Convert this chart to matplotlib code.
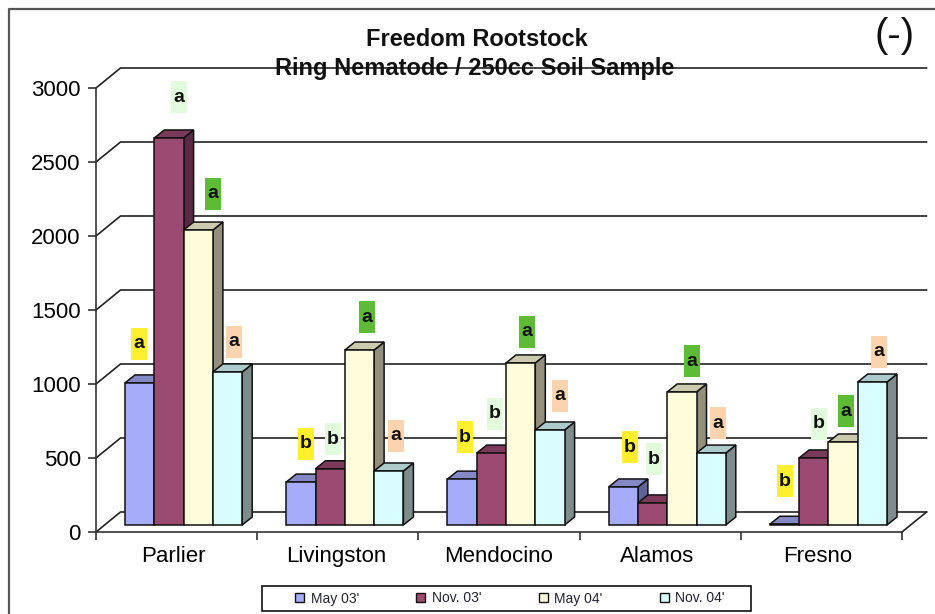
import matplotlib
matplotlib.use("Agg")
import matplotlib.pyplot as plt
from matplotlib.patches import Polygon, Rectangle

plt.rcParams['font.family'] = ['Liberation Sans', 'DejaVu Sans']

# data
sites = ["Parlier", "Livingston", "Mendocino", "Alamos", "Fresno"]
series = ["May 03'", "Nov. 03'", "May 04'", "Nov. 04'"]
may03 = [960, 290, 310, 257, 5]
nov03 = [2615, 380, 486, 149, 453]
may04 = [1993, 1182, 1095, 899, 561]
nov04 = [1034, 365, 642, 486, 966]
yticks = [0, 500, 1000, 1500, 2000, 2500, 3000]

# significance letters, one row per site
letters = [["a", "a", "a", "a"],
           ["b", "b", "a", "a"],
           ["b", "b", "a", "a"],
           ["b", "b", "a", "a"],
           ["b", "b", "a", "a"]]

# styles
front = ["#A6ACF9", "#9B4A72", "#FFFCDC", "#DAFEFF"]
top = ["#8489C6", "#7C3A5B", "#CCC9AF", "#AECBCC"]
side = ["#5F6299", "#5A2A44", "#938F7C", "#7E8C8C"]
letter_bg = ["#FFEF2E", "#E2FBDC", "#5DBB35", "#FBD3AE"]

# letter centres in figure pixels
letter_px = [[(139, 344), (179, 97), (213, 194), (234, 342)],
             [(306, 444), (333, 439), (367, 317), (396, 436)],
             [(465, 437), (495, 414), (527, 332), (560, 396)],
             [(630, 447), (654, 459), (692, 361), (718, 423)],
             [(785, 481), (819, 424), (846, 411), (879, 352)]]

W, H = 935, 614
dark = "#333333"

fig = plt.figure(figsize=(W / 100, H / 100), dpi=100, facecolor="white")
ax = fig.add_axes([96 / W, 1 - 532 / H, 806 / W, 444 / H])
ax.set_xlim(0, 5)
ax.set_ylim(0, 3000)
ax.patch.set_visible(False)

# one pixel in data units
ux = 5 / 806
uy = 3000 / 444
wall_dx, wall_dy = 24.5 * ux, 20 * uy
depth_dx, depth_dy = 10 * ux, 8 * uy
bar_w = 29.3 * ux
bar_x0 = 29 * ux
bar_base = 7 * uy

for s in ax.spines.values():
    s.set_visible(False)
ax.spines["left"].set_visible(True)
ax.spines["bottom"].set_visible(True)
ax.spines["left"].set_color(dark)
ax.spines["bottom"].set_color(dark)
ax.spines["left"].set_linewidth(1.2)
ax.spines["bottom"].set_linewidth(1.2)

ax.set_yticks(yticks)
ax.set_xticks(range(6), labels=[""] * 6)
# the site names sit a little left of the middle of each slot
ax.set_xticks([0.48, 1.49, 2.5, 3.48, 4.48], labels=sites, minor=True)
ax.tick_params(axis="y", length=6, width=1.2, color=dark, labelsize=16, pad=5)
ax.tick_params(axis="x", which="major", length=6, width=1.2, color=dark)
ax.tick_params(axis="x", which="minor", length=0, labelsize=16, pad=10)

# walls and floor
for v in yticks:
    ax.plot([0, wall_dx, 5 + wall_dx], [v, v + wall_dy, v + wall_dy], color="#222222",
            lw=1.2, clip_on=False, zorder=1)
ax.plot([5 + wall_dx, 5], [wall_dy, 0], color="#222222", lw=1.2, clip_on=False, zorder=1)

# bars, left to right so that each one covers the side of the last
values = [may03, nov03, may04, nov04]
for i in range(5):
    for j in range(4):
        x = i + bar_x0 + j * bar_w
        v = values[j][i] + bar_base
        ax.add_patch(Polygon([(x + bar_w, bar_base), (x + bar_w + depth_dx, bar_base + depth_dy),
                              (x + bar_w + depth_dx, v + depth_dy), (x + bar_w, v)],
                             fc=side[j], ec="#111111", lw=1.1, clip_on=False, zorder=2))
        ax.add_patch(Polygon([(x, v), (x + depth_dx, v + depth_dy),
                              (x + bar_w + depth_dx, v + depth_dy), (x + bar_w, v)],
                             fc=top[j], ec="#111111", lw=1.1, clip_on=False, zorder=2))
        ax.add_patch(Rectangle((x, bar_base), bar_w, values[j][i],
                               fc=front[j], ec="#111111", lw=1.1, clip_on=False, zorder=2))

# letters
for i in range(5):
    for j in range(4):
        px, py = letter_px[i][j]
        fig.patches.append(Rectangle(((px - 8) / W, 1 - (py + 16) / H), 16 / W, 32 / H,
                                     transform=fig.transFigure, fc=letter_bg[j], ec="none",
                                     zorder=5))
        fig.text(px / W, 1 - py / H, letters[i][j], ha="center", va="center",
                 fontsize=14, fontweight="bold", color="#111111", zorder=6)

# outer frame
fig.add_artist(plt.Line2D([9 / W, 9 / W, 1], [0, 1 - 9 / H, 1 - 9 / H], color="#555555", lw=1.6))

fig.text(476.5 / W, 1 - 39.5 / H, "Freedom Rootstock", ha="center", va="center",
         fontsize=17, fontweight="bold", color="#111111", zorder=7)
fig.text(475 / W, 1 - 68.5 / H, "Ring Nematode / 250cc Soil Sample", ha="center", va="center",
         fontsize=17, fontweight="bold", color="#111111", zorder=7)
fig.text(895 / W, 1 - 36 / H, "(-)", ha="center", va="center", fontsize=29, color="#111111")

# legend box is drawn apart, the legend's own frame hugs the entries too tightly
fig.patches.append(Rectangle((262 / W, 1 - 611 / H), 489 / W, 25 / H, transform=fig.transFigure,
                             fc="white", ec="#111111", lw=1.2, zorder=4))
handles = [Rectangle((0, 0), 1, 1, fc=front[j], ec="#111111", lw=1) for j in range(4)]
leg = fig.legend(handles, series, ncol=4, loc="center", bbox_to_anchor=(510 / W, 1 - 598.5 / H),
                 fontsize=10, frameon=False, handlelength=0.65, handleheight=0.65,
                 handletextpad=0.45, columnspacing=4.15, borderpad=0, labelcolor="#222233")
leg.set_zorder(6)

fig.savefig("out.png", dpi=100)
